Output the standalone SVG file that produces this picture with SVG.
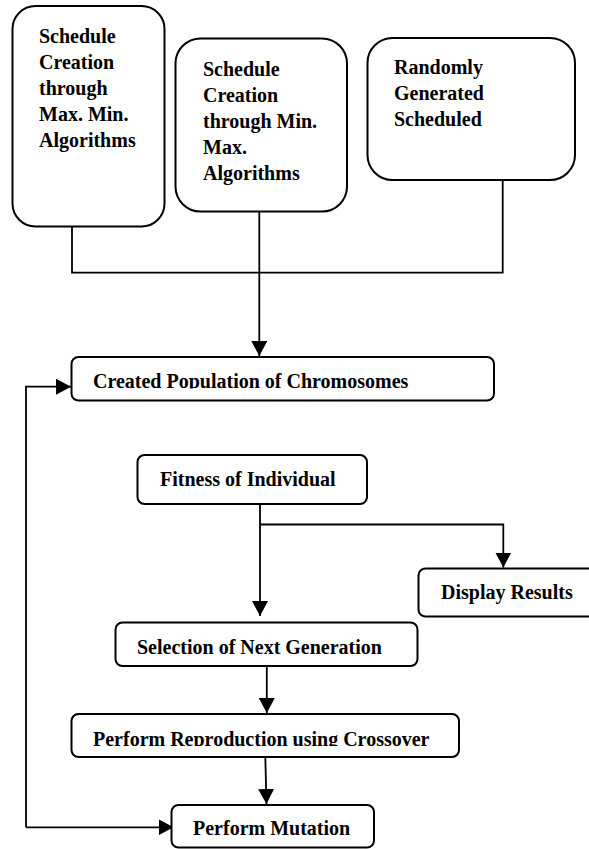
<svg xmlns="http://www.w3.org/2000/svg" width="589" height="849" viewBox="0 0 589 849">
<style>
.box{fill:#fff;stroke:#000;stroke-width:2}
.ln{fill:none;stroke:#000;stroke-width:1.8}
.t{font-family:"Liberation Serif","Times New Roman",serif;font-weight:bold;font-size:20px;fill:#000}
</style>
<defs>
<marker id="ah" markerUnits="userSpaceOnUse" markerWidth="16" markerHeight="16" viewBox="0 0 16 16" refX="15" refY="8" orient="auto">
<path d="M0,0 L15,8 L0,16 Z" fill="#000"/>
</marker>
<clipPath id="c1"><rect x="60" y="350" width="450" height="38.5"/></clipPath>
<clipPath id="c2"><rect x="60" y="705" width="420" height="41"/></clipPath>
</defs>
<rect width="589" height="849" fill="#fff"/>
<g id="connectors">
<path class="ln" d="M72,226 V272.7 H502.7 V180"/>
<path class="ln" d="M259.3,211.7 V356" marker-end="url(#ah)"/>
<path class="ln" d="M26,827.3 V386.7 H71" marker-end="url(#ah)"/>
<path class="ln" d="M260,504 V616" marker-end="url(#ah)"/>
<path class="ln" d="M260,524.5 H503.3 V567.5" marker-end="url(#ah)"/>
<path class="ln" d="M266.8,666 V713" marker-end="url(#ah)"/>
<path class="ln" d="M265.3,757 L266.5,804" marker-end="url(#ah)"/>
<path class="ln" d="M26,827.3 H173.5" marker-end="url(#ah)"/>
</g>
<g id="node-maxmin">
<rect class="box" x="12.5" y="6" width="152" height="220.5" rx="23"/>
<text class="t" x="39" y="42.5">Schedule</text>
<text class="t" x="39" y="68.5">Creation</text>
<text class="t" x="39" y="94.5">through</text>
<text class="t" x="39" y="120.5">Max. Min.</text>
<text class="t" x="39" y="146.5">Algorithms</text>
</g>
<g id="node-minmax">
<rect class="box" x="175.5" y="38.5" width="171.5" height="173" rx="25"/>
<text class="t" x="203" y="76">Schedule</text>
<text class="t" x="203" y="102">Creation</text>
<text class="t" x="203" y="128">through Min.</text>
<text class="t" x="203" y="154">Max.</text>
<text class="t" x="203" y="180">Algorithms</text>
</g>
<g id="node-random">
<rect class="box" x="367.5" y="38" width="207.5" height="142" rx="25"/>
<text class="t" x="394" y="74">Randomly</text>
<text class="t" x="394" y="100">Generated</text>
<text class="t" x="394" y="126">Scheduled</text>
</g>
<g id="node-population">
<rect class="box" x="71.5" y="357" width="422.5" height="43.5" rx="7"/>
<text class="t" x="93" y="388" clip-path="url(#c1)">Created Population of Chromosomes</text>
</g>
<g id="node-fitness">
<rect class="box" x="137.5" y="455" width="229.5" height="49" rx="7"/>
<text class="t" x="160" y="486">Fitness of Individual</text>
</g>
<g id="node-display">
<rect class="box" x="418.5" y="568.5" width="185" height="48" rx="7"/>
<text class="t" x="441" y="598.5">Display Results</text>
</g>
<g id="node-selection">
<rect class="box" x="115.5" y="622.5" width="302" height="43.5" rx="7"/>
<text class="t" x="137" y="653.5">Selection of Next Generation</text>
</g>
<g id="node-crossover">
<rect class="box" x="71.5" y="714" width="387.5" height="43" rx="7"/>
<text class="t" x="93" y="746" clip-path="url(#c2)">Perform Reproduction using Crossover</text>
</g>
<g id="node-mutation">
<rect class="box" x="171.5" y="805" width="202.5" height="42.5" rx="7"/>
<text class="t" x="193" y="835">Perform Mutation</text>
</g>
</svg>
